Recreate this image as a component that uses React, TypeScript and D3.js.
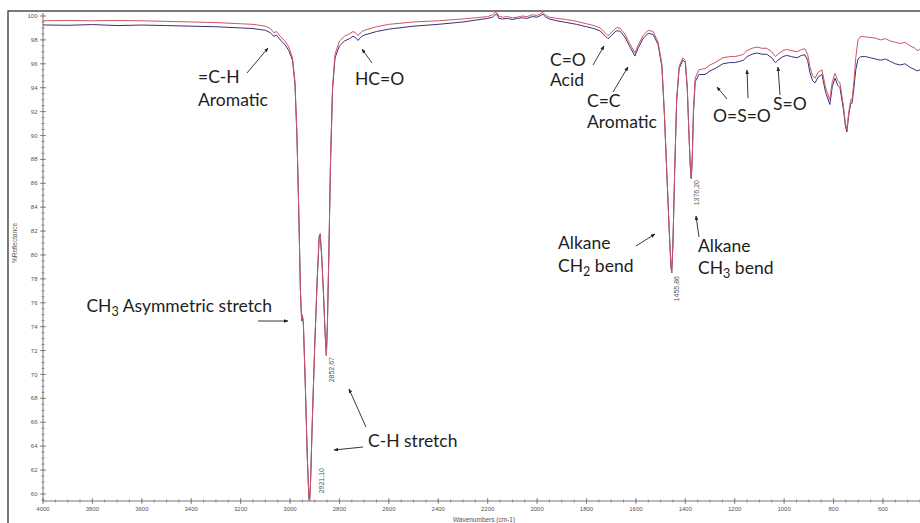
import React from 'react';
import * as d3 from 'd3';

const W = 920;
const H = 523;

// Wavenumber grid (cm-1) shared by both spectra
const wavenumbers = [
  4000, 3900, 3800, 3700, 3600, 3500, 3400, 3300, 3200, 3150, 3100, 3080, 3065, 3055, 3040, 3020, 3005, 2990, 2980, 2972,
  2965, 2958, 2953, 2950, 2946, 2938, 2930, 2924, 2921, 2917, 2910, 2900, 2890, 2882, 2878, 2872, 2865, 2858, 2853, 2849,
  2843, 2836, 2828, 2818, 2800, 2780, 2760, 2745, 2735, 2725, 2715, 2700, 2650, 2600, 2500, 2400, 2300, 2250, 2200, 2180,
  2170, 2162, 2155, 2140, 2120, 2100, 2080, 2060, 2040, 2020, 2000, 1985, 1976, 1965, 1950, 1920, 1880, 1840, 1800, 1770,
  1745, 1725, 1713, 1700, 1680, 1665, 1645, 1625, 1604, 1590, 1570, 1550, 1530, 1510, 1495, 1485, 1475, 1465, 1458, 1455,
  1450, 1443, 1435, 1425, 1410, 1400, 1392, 1385, 1380, 1376, 1372, 1367, 1360, 1345, 1320, 1300, 1280, 1248, 1220, 1200,
  1179, 1165, 1150, 1130, 1110, 1090, 1070, 1050, 1035, 1025, 1005, 990, 970, 948, 930, 916, 905, 896, 885, 875,
  862, 847, 832, 815, 805, 794, 783, 774, 760, 752, 746, 738, 730, 725, 718, 710, 701, 690, 670, 650,
  630, 610, 590, 570, 550, 530, 510, 490, 470, 462, 450,
];

// %Reflectance, upper (red) spectrum
const spectrumRed = [
  99.6, 99.62, 99.6, 99.62, 99.6, 99.55, 99.5, 99.45, 99.35, 99.3, 99.15, 98.95, 98.6, 98.7, 98.3, 97.9, 97.4, 96.5, 94.5, 90,
  84, 77, 74.6, 75.0, 74.3, 69, 63, 59.8, 59.3, 61, 66, 72.5, 78, 81.6, 81.8, 80, 77, 73.5, 71.6, 74,
  80, 88, 94, 96.8, 97.9, 98.3, 98.5, 98.7, 98.6, 98.35, 98.6, 98.8, 99.1, 99.3, 99.5, 99.6, 99.75, 99.85, 99.95, 100.1,
  100.3, 100.25, 100.0, 99.9, 99.95, 99.85, 99.9, 100.0, 99.95, 100.1, 100.05, 100.2, 100.3, 100.05, 99.9, 99.8, 99.7, 99.55, 99.35, 99.2,
  99.0, 98.6, 98.35, 98.6, 99.0, 99.0, 98.5, 97.7, 96.9, 97.6, 98.4, 98.8, 98.7, 97.8, 96, 92, 87, 82, 79, 78.5,
  81, 87, 93, 95.8, 96.5, 96.3, 94, 90, 87.5, 86.4, 88, 92, 94.8, 95.5, 95.6, 95.9, 96.1, 96.5, 96.6, 96.6,
  96.7, 96.8, 97.1, 97.3, 97.4, 97.3, 97.3, 97.0, 96.6, 96.8, 97.1, 97.2, 97.1, 97.0, 97.2, 97.25, 96.8, 95.8, 95.0, 94.8,
  95.3, 95.5, 94.0, 93.0, 94.5, 95.2, 94.6, 94.4, 92.5, 91, 90.5, 92, 93, 93.0, 94.4, 96.5, 98.0, 98.3, 98.25, 98.2,
  98.15, 98.0, 98.1, 97.9, 97.8, 97.7, 97.8, 97.5, 97.3, 97.1, 97.2,
];

// %Reflectance, lower (blue) spectrum
const spectrumBlue = [
  99.25, 99.22, 99.28, 99.2, 99.24, 99.2, 99.15, 99.1, 99.0, 98.95, 98.8, 98.6, 98.3, 98.4, 98.0, 97.6, 97.1, 96.3, 94.3, 89.9,
  83.9, 77, 74.5, 74.9, 74.2, 69, 63, 59.8, 59.3, 61, 66, 72.4, 77.9, 81.5, 81.7, 79.9, 76.9, 73.4, 71.6, 74,
  79.9, 87.8, 93.8, 96.5, 97.5, 97.9, 98.1, 98.3, 98.2, 97.95, 98.2, 98.4, 98.7, 98.9, 99.15, 99.3, 99.5, 99.65, 99.8, 99.9,
  100.1, 100.15, 99.8, 99.75, 99.8, 99.7, 99.8, 99.85, 99.8, 99.95, 99.9, 100.05, 100.15, 99.9, 99.75, 99.6, 99.45, 99.3, 99.1, 98.95,
  98.75, 98.35, 98.1, 98.35, 98.75, 98.75, 98.25, 97.45, 96.65, 97.35, 98.15, 98.55, 98.45, 97.6, 95.8, 91.9, 86.9, 82, 79, 78.5,
  81, 87, 92.9, 95.6, 96.3, 96.1, 93.9, 90, 87.5, 86.4, 88, 91.9, 94.5, 95.1, 95.1, 95.4, 95.6, 96.0, 96.1, 96.1,
  96.2, 96.3, 96.6, 96.8, 96.9, 96.8, 96.8, 96.5, 96.1, 96.3, 96.6, 96.7, 96.6, 96.5, 96.7, 96.75, 96.3, 95.3, 94.6, 94.4,
  94.9, 95.1, 93.6, 92.6, 94.1, 94.8, 94.2, 94.0, 92.2, 90.8, 90.3, 91.8, 92.7, 92.7, 93.9, 95.5, 96.4, 96.6, 96.6, 96.5,
  96.4, 96.3, 96.4, 96.2, 96.0, 95.9, 96.0, 95.7, 95.5, 95.4, 95.5,
];

// Labelled peak positions
const peakLabels = ['2921,10', '2852,67', '1455,86', '1376,20'];
const peakWavenumbers = [2921.1, 2852.67, 1455.86, 1376.2];
const peakLabelTops = [468, 357, 276, 180];

const xMajorTicks = d3.range(600, 4001, 200);
const xMinorTicks = d3.range(450, 4001, 50);
const yMajorTicks = d3.range(60, 101, 2);
const yMinorTicks = d3.range(59.5, 100.01, 0.5);

type Note = { lines: string[]; x: number; y: number; lh: number; anchor?: 'start' | 'end' };
type Arrow = [number, number, number, number];

// Band assignments written on the spectrum
const notes: Note[] = [
  { lines: ['=C-H', 'Aromatic'], x: 198, y: 83, lh: 23 },
  { lines: ['HC=O'], x: 355, y: 85, lh: 0 },
  { lines: ['C=O', 'Acid'], x: 550, y: 66, lh: 20 },
  { lines: ['C=C', 'Aromatic'], x: 587, y: 107, lh: 21 },
  { lines: ['O=S=O'], x: 713, y: 122, lh: 0 },
  { lines: ['S=O'], x: 773, y: 110, lh: 0 },
  { lines: ['Alkane', 'CH_2 bend'], x: 558, y: 249, lh: 23 },
  { lines: ['Alkane', 'CH_3 bend'], x: 698, y: 252, lh: 22 },
  { lines: ['CH_3 Asymmetric stretch'], x: 272, y: 312, lh: 0, anchor: 'end' },
  { lines: ['C-H stretch'], x: 368, y: 447, lh: 0 },
];

const arrows: Arrow[] = [
  [247, 73, 268, 48],
  [372, 63, 362, 49],
  [593, 65, 604, 46],
  [613, 92, 628, 67],
  [727, 99, 717, 87],
  [748, 98, 747, 70],
  [780, 95, 778, 67],
  [636, 246, 655, 234],
  [699, 237, 696, 216],
  [258, 321, 288, 321],
  [363, 447, 334, 450],
  [366, 427, 349, 389],
];

function RichText({ text }: { text: string }) {
  const parts = text.split(/_(\d)/);
  const out: React.ReactNode[] = [];
  let shifted = false;
  parts.forEach((p, i) => {
    if (i % 2 === 1) {
      out.push(
        <tspan key={i} fontSize="0.72em" dy={4}>
          {p}
        </tspan>
      );
      shifted = true;
    } else if (p.length) {
      out.push(
        <tspan key={i} dy={shifted ? -4 : 0}>
          {p}
        </tspan>
      );
      shifted = false;
    }
  });
  return <>{out}</>;
}

export default function App() {
  const x = d3.scaleLinear().domain([4000, 450]).range([43, 920]);
  const y = d3.scaleLinear().domain([59.41, 100.25]).range([501, 13]);

  const idx = d3.range(wavenumbers.length);
  const line = (vals: number[]) =>
    d3
      .line<number>()
      .x((i) => x(wavenumbers[i]))
      .y((i) => y(vals[i]))(idx) as string;

  const axisColor = '#777';
  const tickText = '#555';

  return (
    <svg
      width={W}
      height={H}
      style={{ position: 'absolute', left: 0, top: 0, background: '#fff' }}
      fontFamily="Arial, 'Liberation Sans', sans-serif"
    >
      <defs>
        <clipPath id="plotClip">
          <rect x={43} y={10} width={877} height={491} />
        </clipPath>
        <marker id="head" viewBox="0 0 10 10" refX={9} refY={5} markerWidth={5} markerHeight={5} orient="auto">
          <path d="M0,1 L10,5 L0,9 z" fill="#222" />
        </marker>
      </defs>

      <rect x={0} y={0} width={W} height={H} fill="#fff" />
      {/* outer frame */}
      <rect x={8} y={11} width={1000} height={600} fill="none" stroke="#333" strokeWidth={1.3} />

      {/* y axis */}
      <line x1={43} x2={43} y1={13} y2={501} stroke={axisColor} strokeWidth={1} />
      {yMinorTicks.map((t) => (
        <line key={'ym' + t} x1={41.5} x2={44.5} y1={y(t)} y2={y(t)} stroke={axisColor} strokeWidth={0.8} />
      ))}
      {yMajorTicks.map((t) => (
        <g key={'y' + t}>
          <line x1={40} x2={46} y1={y(t)} y2={y(t)} stroke={axisColor} strokeWidth={0.8} />
          <text x={37.5} y={y(t)} dy="0.35em" textAnchor="end" fontSize={6} fill={tickText}>
            {t}
          </text>
        </g>
      ))}
      <text
        transform={`translate(17,243) rotate(-90)`}
        textAnchor="middle"
        fontSize={6.5}
        fill={tickText}
      >
        %Reflectance
      </text>

      {/* x axis */}
      <line x1={43} x2={920} y1={501} y2={501} stroke={axisColor} strokeWidth={1} />
      {xMinorTicks.map((t) => (
        <line key={'xm' + t} x1={x(t)} x2={x(t)} y1={499.5} y2={502.5} stroke={axisColor} strokeWidth={0.8} />
      ))}
      {xMajorTicks.map((t) => (
        <g key={'x' + t}>
          <line x1={x(t)} x2={x(t)} y1={498} y2={504} stroke={axisColor} strokeWidth={0.8} />
          <text x={x(t)} y={511} textAnchor="middle" fontSize={6} fill={tickText}>
            {t}
          </text>
        </g>
      ))}
      <text x={484} y={522} textAnchor="middle" fontSize={6.5} fill={tickText}>
        Wavenumbers (cm-1)
      </text>

      {/* spectra */}
      <g clipPath="url(#plotClip)" fill="none" strokeLinejoin="round">
        <path d={line(spectrumBlue)} stroke="#3b2f78" strokeWidth={1} />
        <path d={line(spectrumRed)} stroke="#cc5566" strokeWidth={1} />
      </g>

      {/* peak position labels */}
      {peakLabels.map((lab, i) => (
        <text
          key={lab}
          transform={`translate(${x(peakWavenumbers[i]) + (i === 0 ? 12 : 5)},${peakLabelTops[i]}) rotate(-90)`}
          textAnchor="end"
          dy="0.35em"
          fontSize={7}
          fill="#555"
        >
          {lab}
        </text>
      ))}

      {/* assignments */}
      <g fontFamily="Lato, 'Open Sans', sans-serif" fontSize={17.5} fill="#1e1e1e">
        {notes.map((n, i) => (
          <g key={'n' + i}>
            {n.lines.map((ln, j) => (
              <text key={j} x={n.x} y={n.y + j * n.lh} textAnchor={n.anchor ?? 'start'}>
                <RichText text={ln} />
              </text>
            ))}
          </g>
        ))}
      </g>
      {arrows.map((a, i) => (
        <line
          key={'a' + i}
          x1={a[0]}
          y1={a[1]}
          x2={a[2]}
          y2={a[3]}
          stroke="#222"
          strokeWidth={0.9}
          markerEnd="url(#head)"
        />
      ))}
    </svg>
  );
}
